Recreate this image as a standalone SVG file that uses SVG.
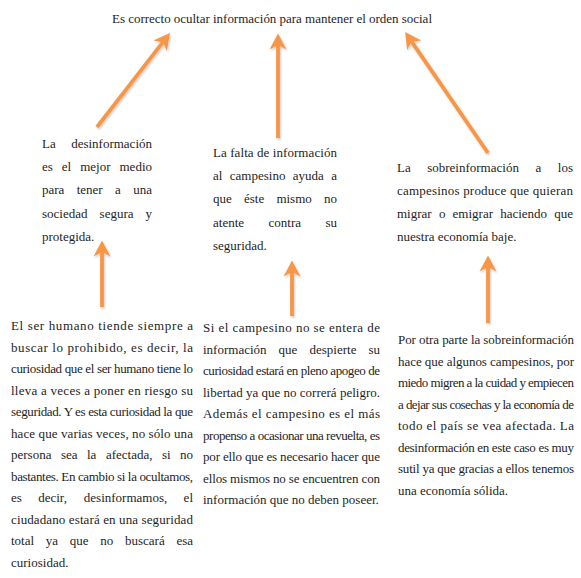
<svg xmlns="http://www.w3.org/2000/svg" width="581" height="578" viewBox="0 0 581 578">
<style>
text{font-family:"Liberation Serif","Times New Roman",Times,serif;font-size:13px;fill:#1e1e1e}
.e{text-anchor:end}
.arr{stroke:#F79646;stroke-width:3.8;fill:none;marker-end:url(#ah)}
</style>
<defs>
<marker id="ah" markerUnits="userSpaceOnUse" markerWidth="18" markerHeight="20" viewBox="0 -10 17 20" refX="4.5" refY="0" orient="auto">
<path d="M16,0 L0,-8.5 L4.5,0 L0,8.5 Z" fill="#F79646"/>
</marker>
<filter id="sh" filterUnits="userSpaceOnUse" x="0" y="0" width="581" height="578">
<feDropShadow dx="1" dy="1.5" stdDeviation="1" flood-color="#000" flood-opacity="0.22"/>
</filter>
</defs>
<rect width="581" height="578" fill="#fff"/>

<g id="title">
<text x="112" y="23" textLength="320" lengthAdjust="spacing">Es correcto ocultar información para mantener el orden social</text>
</g>

<g id="connectors" filter="url(#sh)">
<line class="arr" x1="97" y1="127" x2="162.9" y2="42.2"/>
<line class="arr" x1="278" y1="138" x2="278" y2="45"/>
<line class="arr" x1="488" y1="153" x2="411.6" y2="41.6"/>
<line class="arr" x1="102" y1="307" x2="102" y2="252"/>
<line class="arr" x1="292" y1="316" x2="292" y2="272"/>
<line class="arr" x1="488" y1="323" x2="488" y2="267"/>
</g>

<g id="box1">
<text x="42" y="148">La</text><text class="e" x="152" y="148">desinformación</text>
<text x="42" y="171.2">es</text><text x="61.8" y="171.2">el</text><text x="80.2" y="171.2">mejor</text><text class="e" x="152" y="171.2">medio</text>
<text x="42" y="194.4">para</text><text x="76.7" y="194.4">tener</text><text x="115" y="194.4">a</text><text class="e" x="152" y="194.4">una</text>
<text x="42" y="217.6">sociedad</text><text x="99.6" y="217.6">segura</text><text class="e" x="152" y="217.6">y</text>
<text x="42" y="240.8">protegida.</text>
</g>

<g id="box2">
<text x="213" y="156.5" textLength="124" lengthAdjust="spacing">La falta de información</text>
<text x="213" y="179.9">al</text><text x="229.8" y="179.9">campesino</text><text x="292.8" y="179.9">ayuda</text><text class="e" x="337" y="179.9">a</text>
<text x="213" y="203.3">que</text><text x="244" y="203.3">éste</text><text x="276.4" y="203.3">mismo</text><text class="e" x="337" y="203.3">no</text>
<text x="213" y="226.7">atente</text><text x="268.5" y="226.7">contra</text><text class="e" x="337" y="226.7">su</text>
<text x="213" y="250.1">seguridad.</text>
</g>

<g id="box3">
<text x="397" y="171.5">La</text><text x="427.2" y="171.5">sobreinformación</text><text x="535.4" y="171.5">a</text><text class="e" x="573" y="171.5">los</text>
<text x="397" y="194.8" textLength="176" lengthAdjust="spacing">campesinos produce que quieran</text>
<text x="397" y="218.1">migrar</text><text x="438.9" y="218.1">o</text><text x="452.6" y="218.1">emigrar</text><text x="500.2" y="218.1">haciendo</text><text class="e" x="573" y="218.1">que</text>
<text x="397" y="241.4">nuestra economía baje.</text>
</g>

<g id="para1">
<text x="11" y="330" textLength="182" lengthAdjust="spacing">El ser humano tiende siempre a</text>
<text x="11" y="351.5" textLength="182" lengthAdjust="spacing">buscar lo prohibido, es decir, la</text>
<text x="11" y="373" textLength="182" lengthAdjust="spacing">curiosidad que el ser humano tiene lo</text>
<text x="11" y="394.5" textLength="182" lengthAdjust="spacing">lleva a veces a poner en riesgo su</text>
<text x="11" y="416" textLength="182" lengthAdjust="spacing">seguridad. Y es esta curiosidad la que</text>
<text x="11" y="437.5" textLength="182" lengthAdjust="spacing">hace que varias veces, no sólo una</text>
<text y="459"><tspan x="11">persona</tspan><tspan x="60.9">sea</tspan><tspan x="87">la</tspan><tspan x="105.9">afectada,</tspan><tspan x="162">si</tspan></text><text class="e" x="193" y="459">no</text>
<text x="11" y="480.5" textLength="182" lengthAdjust="spacing">bastantes. En cambio si la ocultamos,</text>
<text y="502"><tspan x="11">es</tspan><tspan x="38.2">decir,</tspan><tspan x="83.8">desinformamos,</tspan></text><text class="e" x="193" y="502">el</text>
<text x="11" y="523.5" textLength="182" lengthAdjust="spacing">ciudadano estará en una seguridad</text>
<text y="545"><tspan x="11">total</tspan><tspan x="45.8">ya</tspan><tspan x="69.8">que</tspan><tspan x="100.3">no</tspan><tspan x="125">buscará</tspan></text><text class="e" x="193" y="545">esa</text>
<text x="11" y="566.5">curiosidad.</text>
</g>

<g id="para2">
<text x="203" y="332" textLength="177" lengthAdjust="spacing">Si el campesino no se entera de</text>
<text y="353.5"><tspan x="203">información</tspan><tspan x="278.6">que</tspan><tspan x="309.5">despierte</tspan></text><text class="e" x="380" y="353.5">su</text>
<text x="203" y="375" textLength="177" lengthAdjust="spacing">curiosidad estará en pleno apogeo de</text>
<text x="203" y="396.5" textLength="177" lengthAdjust="spacing">libertad ya que no correrá peligro.</text>
<text x="203" y="418" textLength="177" lengthAdjust="spacing">Además el campesino es el más</text>
<text x="203" y="439.5" textLength="177" lengthAdjust="spacing">propenso a ocasionar una revuelta, es</text>
<text x="203" y="461" textLength="177" lengthAdjust="spacing">por ello que es necesario hacer que</text>
<text x="203" y="482.5" textLength="177" lengthAdjust="spacing">ellos mismos no se encuentren con</text>
<text x="203" y="504">información que no deben poseer.</text>
</g>

<g id="para3">
<text x="398" y="344" textLength="176" lengthAdjust="spacing">Por otra parte la sobreinformación</text>
<text x="398" y="365.5" textLength="176" lengthAdjust="spacing">hace que algunos campesinos, por</text>
<text x="398" y="387" textLength="176" lengthAdjust="spacing">miedo migren a la cuidad y empiecen</text>
<text x="398" y="408.5" textLength="176" lengthAdjust="spacing">a dejar sus cosechas y la economía de</text>
<text x="398" y="430" textLength="176" lengthAdjust="spacing">todo el país se vea afectada. La</text>
<text x="398" y="451.5" textLength="176" lengthAdjust="spacing">desinformación en este caso es muy</text>
<text x="398" y="473" textLength="176" lengthAdjust="spacing">sutil ya que gracias a ellos tenemos</text>
<text x="398" y="494.5">una economía sólida.</text>
</g>
</svg>
